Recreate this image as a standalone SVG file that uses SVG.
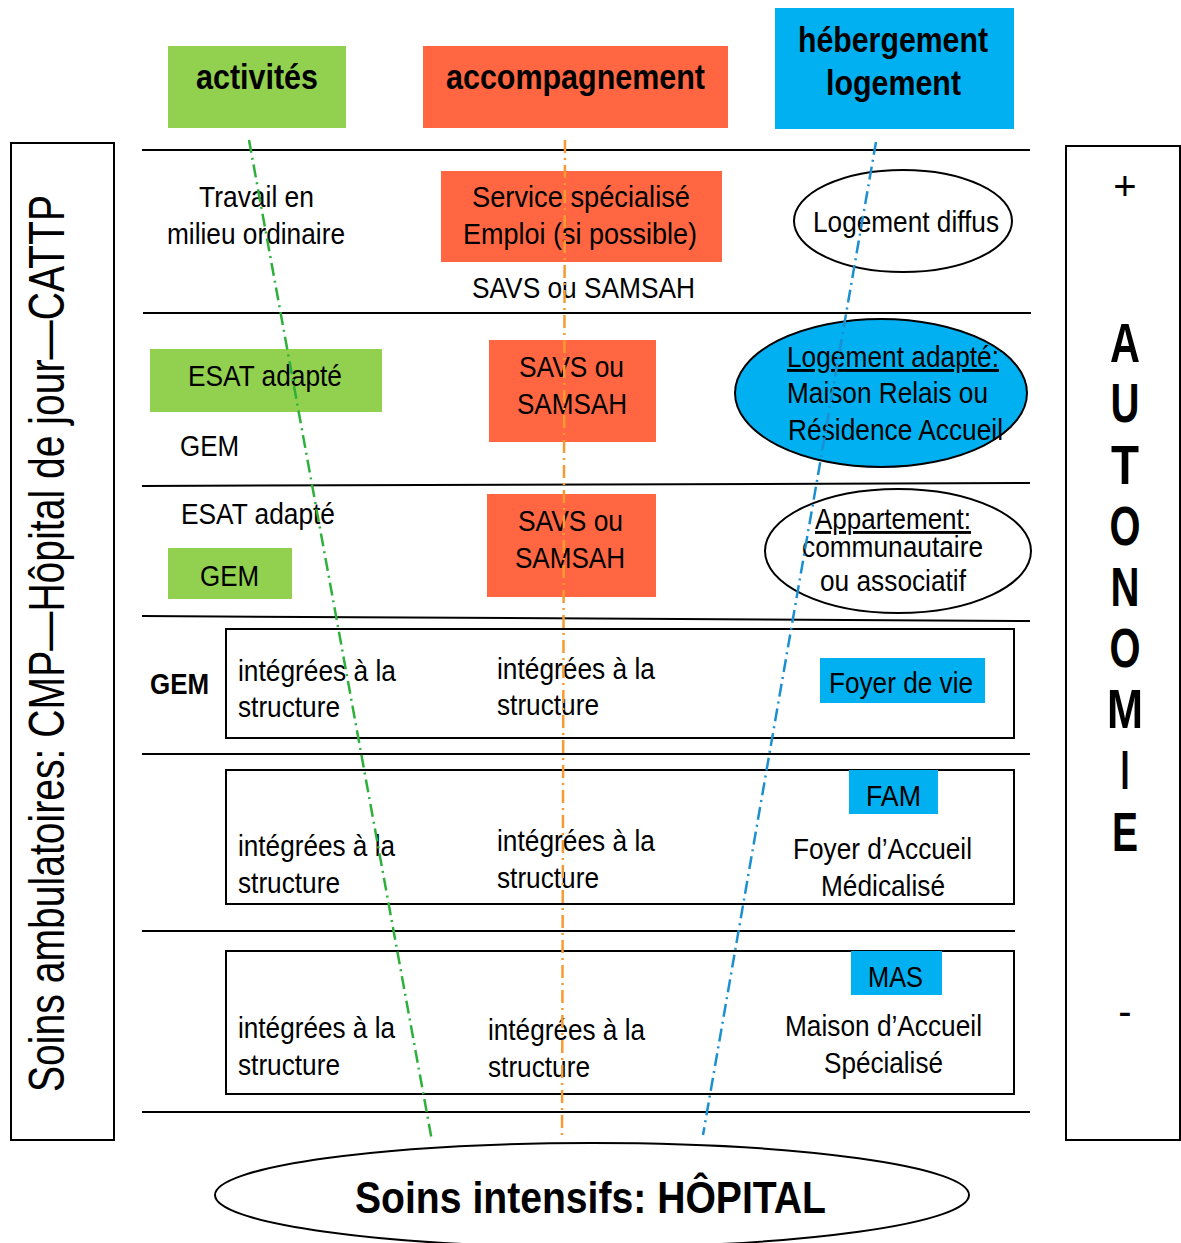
<svg xmlns="http://www.w3.org/2000/svg" width="1181" height="1243" viewBox="0 0 1181 1243">
<style>
text{font-family:"Liberation Sans",Arial,sans-serif;fill:#000}
.t{font-size:29px}
.b{font-weight:bold}
.h{font-size:35px;font-weight:bold}
.g{fill:#92D050}
.o{fill:#FF6641}
.bl{fill:#00B0F0}
.ln{stroke:#000;stroke-width:2;fill:none}
.bx{stroke:#000;stroke-width:2;fill:none}
.el{stroke:#000;stroke-width:2}
.c{text-anchor:middle}
.big{font-size:56px;font-weight:bold}
</style>
<rect width="1181" height="1243" fill="#fff"/>

<g id="h-activites"><rect class="g" x="168" y="46" width="178" height="82"/><text class="h" x="196" y="89" textLength="122" lengthAdjust="spacingAndGlyphs">activités</text></g>
<g id="h-accompagnement"><rect class="o" x="423" y="46" width="305" height="82"/><text class="h" x="446" y="89" textLength="259" lengthAdjust="spacingAndGlyphs">accompagnement</text></g>
<g id="h-hebergement"><rect class="bl" x="775" y="8" width="239" height="121"/><text class="h" x="798" y="52" textLength="190" lengthAdjust="spacingAndGlyphs">hébergement</text><text class="h" x="826" y="95" textLength="135" lengthAdjust="spacingAndGlyphs">logement</text></g>

<g id="rows">
<line class="ln" x1="142" y1="150" x2="1030" y2="150"/>
<line class="ln" x1="143" y1="313" x2="1031" y2="313"/>
<line class="ln" x1="142" y1="486" x2="1030" y2="483"/>
<line class="ln" x1="142" y1="616" x2="1030" y2="621"/>
<line class="ln" x1="142" y1="754" x2="1030" y2="754"/>
<line class="ln" x1="142" y1="931" x2="1015" y2="931"/>
<line class="ln" x1="142" y1="1112" x2="1030" y2="1112"/>
</g>

<g id="left-box"><rect class="bx" x="11" y="143" width="103" height="997"/><text class="t" transform="translate(64,1092) rotate(-90)" style="font-size:50px" textLength="897" lengthAdjust="spacingAndGlyphs">Soins ambulatoires: CMP—Hôpital de jour—CATTP</text></g>

<g id="right-box"><rect class="bx" x="1066" y="146" width="114" height="994"/>
<text class="c" x="1125" y="200" style="font-size:40px">+</text>
<text class="big c" x="1125" y="362" textLength="30" lengthAdjust="spacingAndGlyphs">A</text>
<text class="big c" x="1125" y="422" textLength="29" lengthAdjust="spacingAndGlyphs">U</text>
<text class="big c" x="1125" y="484" textLength="28" lengthAdjust="spacingAndGlyphs">T</text>
<text class="big c" x="1125" y="545" textLength="31" lengthAdjust="spacingAndGlyphs">O</text>
<text class="big c" x="1125" y="606" textLength="29" lengthAdjust="spacingAndGlyphs">N</text>
<text class="big c" x="1125" y="667" textLength="31" lengthAdjust="spacingAndGlyphs">O</text>
<text class="big c" x="1125" y="728" textLength="36" lengthAdjust="spacingAndGlyphs">M</text>
<text class="big c" x="1125" y="789" textLength="9" lengthAdjust="spacingAndGlyphs">I</text>
<text class="big c" x="1125" y="851" textLength="26" lengthAdjust="spacingAndGlyphs">E</text>
<text class="c" x="1125" y="1025" style="font-size:40px">-</text>
</g>

<g id="travail"><text class="t" x="199" y="207" textLength="115" lengthAdjust="spacingAndGlyphs">Travail en</text><text class="t" x="167" y="244" textLength="178" lengthAdjust="spacingAndGlyphs">milieu ordinaire</text></g>
<g id="service-emploi"><rect class="o" x="441" y="171" width="281" height="91"/><text class="t" x="472" y="207" textLength="218" lengthAdjust="spacingAndGlyphs">Service  spécialisé</text><text class="t" x="463" y="244" textLength="234" lengthAdjust="spacingAndGlyphs">Emploi  (si possible)</text></g>
<g id="savs1"><text class="t" x="472" y="298" textLength="223" lengthAdjust="spacingAndGlyphs">SAVS ou SAMSAH</text></g>
<g id="logement-diffus"><ellipse class="el" fill="#fff" cx="903" cy="221" rx="109" ry="51"/><text class="t" x="813" y="232" textLength="186" lengthAdjust="spacingAndGlyphs">Logement diffus</text></g>

<g id="esat1"><rect class="g" x="150" y="349" width="232" height="63"/><text class="t" x="188" y="386" textLength="154" lengthAdjust="spacingAndGlyphs">ESAT adapté</text></g>
<g id="gem1"><text class="t" x="180" y="456" textLength="59" lengthAdjust="spacingAndGlyphs">GEM</text></g>
<g id="savs2"><rect class="o" x="489" y="340" width="167" height="102"/><text class="t" x="519" y="377" textLength="105" lengthAdjust="spacingAndGlyphs">SAVS ou</text><text class="t" x="517" y="414" textLength="110" lengthAdjust="spacingAndGlyphs">SAMSAH</text></g>
<g id="logement-adapte"><ellipse class="el bl" cx="881" cy="393" rx="146" ry="74"/><text class="t" x="787" y="367" textLength="212" lengthAdjust="spacingAndGlyphs" text-decoration="underline">Logement adapté:</text><text class="t" x="787" y="403" textLength="201" lengthAdjust="spacingAndGlyphs">Maison Relais ou</text><text class="t" x="788" y="440" textLength="215" lengthAdjust="spacingAndGlyphs">Résidence Accueil</text></g>

<g id="esat2"><text class="t" x="181" y="524" textLength="154" lengthAdjust="spacingAndGlyphs">ESAT adapté</text></g>
<g id="gem2"><rect class="g" x="168" y="548" width="124" height="51"/><text class="t" x="200" y="586" textLength="59" lengthAdjust="spacingAndGlyphs">GEM</text></g>
<g id="savs3"><rect class="o" x="487" y="494" width="169" height="103"/><text class="t" x="518" y="531" textLength="105" lengthAdjust="spacingAndGlyphs">SAVS ou</text><text class="t" x="515" y="568" textLength="110" lengthAdjust="spacingAndGlyphs">SAMSAH</text></g>
<g id="appartement"><ellipse class="el" fill="#fff" cx="898" cy="551" rx="133" ry="62"/><text class="t" x="815" y="529" textLength="156" lengthAdjust="spacingAndGlyphs" text-decoration="underline">Appartement:</text><text class="t" x="802" y="557" textLength="181" lengthAdjust="spacingAndGlyphs">communautaire</text><text class="t" x="820" y="591" textLength="146" lengthAdjust="spacingAndGlyphs">ou associatif</text></g>

<g id="gem3"><text class="t b" x="150" y="694" textLength="59" lengthAdjust="spacingAndGlyphs">GEM</text></g>
<g id="row-foyer"><rect class="bx" x="226" y="629" width="788" height="109"/>
<text class="t" x="238" y="681" textLength="158" lengthAdjust="spacingAndGlyphs">intégrées à la</text><text class="t" x="238" y="717" textLength="102" lengthAdjust="spacingAndGlyphs">structure</text>
<text class="t" x="497" y="679" textLength="158" lengthAdjust="spacingAndGlyphs">intégrées à la</text><text class="t" x="497" y="715" textLength="102" lengthAdjust="spacingAndGlyphs">structure</text>
<rect class="bl" x="820" y="658" width="165" height="45"/><text class="t" x="829" y="693" textLength="144" lengthAdjust="spacingAndGlyphs">Foyer de vie</text></g>

<g id="row-fam"><rect class="bx" x="226" y="770" width="788" height="134"/>
<text class="t" x="238" y="856" textLength="157" lengthAdjust="spacingAndGlyphs">intégrées à la</text><text class="t" x="238" y="893" textLength="102" lengthAdjust="spacingAndGlyphs">structure</text>
<text class="t" x="497" y="851" textLength="158" lengthAdjust="spacingAndGlyphs">intégrées à la</text><text class="t" x="497" y="888" textLength="102" lengthAdjust="spacingAndGlyphs">structure</text>
<rect class="bl" x="849" y="770" width="89" height="44"/><text class="t" x="866" y="806" textLength="55" lengthAdjust="spacingAndGlyphs">FAM</text>
<text class="t" x="793" y="859" textLength="179" lengthAdjust="spacingAndGlyphs">Foyer d’Accueil</text><text class="t" x="821" y="896" textLength="124" lengthAdjust="spacingAndGlyphs">Médicalisé</text></g>

<g id="row-mas"><rect class="bx" x="226" y="951" width="788" height="143"/>
<text class="t" x="238" y="1038" textLength="157" lengthAdjust="spacingAndGlyphs">intégrées à la</text><text class="t" x="238" y="1075" textLength="102" lengthAdjust="spacingAndGlyphs">structure</text>
<text class="t" x="488" y="1040" textLength="157" lengthAdjust="spacingAndGlyphs">intégrées à la</text><text class="t" x="488" y="1077" textLength="102" lengthAdjust="spacingAndGlyphs">structure</text>
<rect class="bl" x="851" y="951" width="91" height="44"/><text class="t" x="868" y="987" textLength="55" lengthAdjust="spacingAndGlyphs">MAS</text>
<text class="t" x="785" y="1036" textLength="197" lengthAdjust="spacingAndGlyphs">Maison d’Accueil</text><text class="t" x="824" y="1073" textLength="119" lengthAdjust="spacingAndGlyphs">Spécialisé</text></g>

<g id="hopital"><ellipse class="el" fill="#fff" cx="592" cy="1195" rx="377" ry="52"/><text x="355" y="1213" style="font-size:45px;font-weight:bold" textLength="471" lengthAdjust="spacingAndGlyphs">Soins intensifs: HÔPITAL</text></g>

<g id="connectors" fill="none" stroke-width="2.5" stroke-dasharray="13 5 2 5">
<line x1="249" y1="140" x2="432" y2="1141" stroke="#2DB03A"/>
<line x1="565" y1="140" x2="562" y2="1138" stroke="#F79A32"/>
<line x1="876" y1="142" x2="703" y2="1135" stroke="#1C8FD0"/>
</g>
</svg>
